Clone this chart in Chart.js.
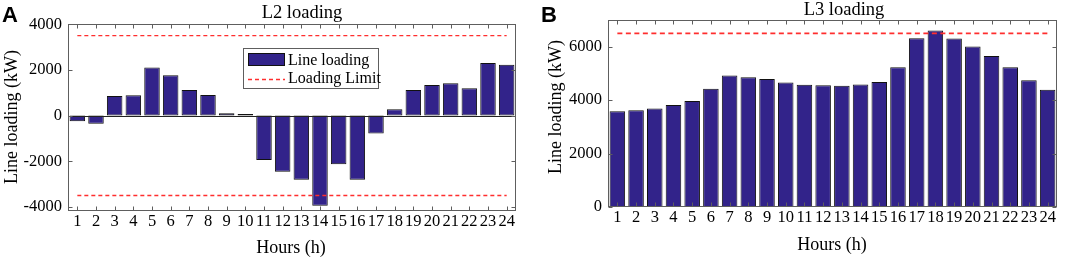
<!DOCTYPE html>
<html>
<head>
<meta charset="utf-8">
<script src="https://cdn.jsdelivr.net/npm/chart.js@4"></script>
<style>
    body { margin: 0; background: #ffffff; }
    #wrap { position: relative; width: 1072px; height: 263px; }
    canvas { position: absolute; top: 0; }
</style>
</head>
<body>
<div id="wrap">
    <canvas id="l2Graph" width="536" height="263" style="left:0px"></canvas>
    <canvas id="l3Graph" width="536" height="263" style="left:536px"></canvas>
</div>
<script>
// data
const hours = ['1', '2', '3', '4', '5', '6', '7', '8', '9', '10', '11', '12', '13', '14', '15', '16', '17', '18', '19', '20', '21', '22', '23', '24'];
const l2Loading = [-250, -360, 860, 890, 2110, 1760, 1120, 900, 100, 70, -1950, -2460, -2810, -3950, -2130, -2810, -790, 280, 1120, 1340, 1410, 1200, 2300, 2220];
const l3Loading = [3580, 3620, 3690, 3820, 3970, 4430, 4920, 4860, 4790, 4660, 4580, 4560, 4540, 4590, 4680, 5230, 6320, 6610, 6310, 6010, 5650, 5230, 4740, 4390];
const l2Limit = 3500;
const l3Limit = 6500;
const l2Ticks = [-4000, -2000, 0, 2000, 4000];
const l3Ticks = [0, 2000, 4000, 6000];

const barColor = '#32238a';
const limitColor = '#ff2e2e';
const axisColor = '#5e5e5e';
const serif = '"Liberation Serif", "Times New Roman", serif';

// draws the matlab style frame: box, inward ticks, titles, letter, legend
const framePlugin = {
    id: 'frame',
    afterDatasetsDraw(chart, args, opts) {
        const ctx = chart.ctx;
        const area = chart.chartArea;
        const x = chart.scales.x;
        const y = chart.scales.y;
        ctx.save();

        // zero baseline
        if (opts.baseline) {
            const y0 = Math.round(y.getPixelForValue(0)) + 0.5;
            ctx.strokeStyle = '#222222';
            ctx.lineWidth = 1;
            ctx.beginPath();
            ctx.moveTo(area.left, y0);
            ctx.lineTo(area.right, y0);
            ctx.stroke();
        }

        // box + inward ticks
        ctx.strokeStyle = axisColor;
        ctx.lineWidth = 1;
        const l = Math.round(area.left) + 0.5, r = Math.round(area.right) - 0.5;
        const t = Math.round(area.top) + 0.5, b = Math.round(area.bottom) - 0.5;
        ctx.strokeRect(l, t, r - l, b - t);
        ctx.beginPath();
        for (let i = 0; i < x.ticks.length; i++) {
            const px = Math.round(x.getPixelForTick(i)) + 0.5;
            ctx.moveTo(px, b); ctx.lineTo(px, b - 4);
            ctx.moveTo(px, t); ctx.lineTo(px, t + 4);
        }
        y.ticks.forEach(tk => {
            const py = Math.round(y.getPixelForValue(tk.value)) + 0.5;
            ctx.moveTo(l, py); ctx.lineTo(l + 4, py);
            ctx.moveTo(r, py); ctx.lineTo(r - 4, py);
        });
        ctx.stroke();

        // panel letter
        ctx.fillStyle = '#000000';
        ctx.font = 'bold 22px "Liberation Sans", Arial, sans-serif';
        ctx.textAlign = 'left';
        ctx.textBaseline = 'alphabetic';
        ctx.fillText(opts.letter, opts.letterX, 22);

        // title and axis titles
        ctx.textAlign = 'center';
        ctx.textBaseline = 'middle';
        ctx.font = '18.5px ' + serif;
        ctx.fillText(opts.title, opts.titleX, opts.titleY);
        ctx.font = '18px ' + serif;
        ctx.fillText('Hours (h)', opts.xTitleX, opts.xTitleY);
        ctx.save();
        ctx.translate(opts.yTitleX, opts.yTitleY);
        ctx.rotate(-Math.PI / 2);
        ctx.fillText('Line loading (kW)', 0, 0);
        ctx.restore();

        // legend box
        if (opts.legend) {
            const lg = opts.legend;
            ctx.fillStyle = '#ffffff';
            ctx.fillRect(lg.x, lg.y, lg.w, lg.h);
            ctx.strokeStyle = axisColor;
            ctx.strokeRect(lg.x + 0.5, lg.y + 0.5, lg.w, lg.h);
            ctx.fillStyle = barColor;
            ctx.fillRect(lg.x + 5, lg.y + 5, 37, 13);
            ctx.strokeStyle = '#111111';
            ctx.strokeRect(lg.x + 5.5, lg.y + 5.5, 36, 12);
            ctx.strokeStyle = limitColor;
            ctx.lineWidth = 1.4;
            ctx.setLineDash([4, 3]);
            ctx.beginPath();
            ctx.moveTo(lg.x + 5, lg.y + 31.5);
            ctx.lineTo(lg.x + 42, lg.y + 31.5);
            ctx.stroke();
            ctx.setLineDash([]);
            ctx.fillStyle = '#000000';
            ctx.textAlign = 'left';
            ctx.font = '16px ' + serif;
            ctx.fillText('Line loading', lg.x + 45, lg.y + 12.5);
            ctx.fillText('Loading Limit', lg.x + 45, lg.y + 31);
        }
        ctx.restore();
    }
};

// build config for one loading panel
function build_loading_config(values, limits, ticks, yMin, yMax, frame, area) {
    const limitSets = limits.map(lim => ({
        type: 'line',
        label: 'Loading Limit',
        data: hours.map(() => lim),
        borderColor: limitColor,
        borderWidth: frame.dashWidth,
        borderDash: frame.dash,
        pointRadius: 0,
        fill: false,
        order: 0
    }));
    return {
        type: 'bar',
        data: {
            labels: hours,
            datasets: [...limitSets, {
                type: 'bar',
                label: 'Line loading',
                data: values,
                backgroundColor: barColor,
                borderColor: '#111111',
                borderWidth: 1,
                borderSkipped: false,
                barPercentage: 0.83,
                categoryPercentage: 1,
                order: 1
            }]
        },
        options: {
            responsive: false,
            animation: false,
            devicePixelRatio: 1,
            layout: { padding: { top: area.top, right: area.right, left: 0, bottom: 0 } },
            plugins: {
                legend: { display: false },
                tooltip: { enabled: false },
                frame: frame
            },
            scales: {
                x: {
                    offset: true,
                    grid: { display: false, drawTicks: false },
                    border: { display: false },
                    ticks: { color: '#000000', padding: 1, maxRotation: 0, autoSkip: false, font: { family: serif, size: 16.5 } },
                    afterFit: (scale) => { scale.height = area.xHeight; }
                },
                y: {
                    min: yMin,
                    max: yMax,
                    grid: { display: false, drawTicks: false },
                    border: { display: false },
                    afterBuildTicks: (scale) => { scale.ticks = ticks.map(v => ({ value: v })); },
                    ticks: {
                        color: '#000000',
                        padding: area.yPad,
                        font: { family: serif, size: 16.5 },
                        callback: (value) => String(value)
                    },
                    afterFit: (scale) => { scale.width = area.yWidth; }
                }
            }
        },
        plugins: [framePlugin]
    };
}

// create both panels
function create_loading_graphs() {
    new Chart('l2Graph', build_loading_config(l2Loading, [l2Limit, -l2Limit], l2Ticks, -4180, 4010, {
        letter: 'A', letterX: 2, title: 'L2 loading', titleX: 302, titleY: 13,
        xTitleX: 291, xTitleY: 248, yTitleX: 12, yTitleY: 117,
        baseline: true, dash: [4, 3], dashWidth: 1.4,
        legend: { x: 243, y: 48, w: 135, h: 40 }
    }, { top: 24, right: 20, xHeight: 52, yWidth: 68, yPad: 6 }));

    new Chart('l3Graph', build_loading_config(l3Loading, [l3Limit], l3Ticks, 0, 7000, {
        letter: 'B', letterX: 5, title: 'L3 loading', titleX: 308, titleY: 10,
        xTitleX: 296, xTitleY: 245, yTitleX: 20, yTitleY: 107,
        baseline: false, dash: [5, 3.5], dashWidth: 1.8,
        legend: null
    }, { top: 20, right: 15, xHeight: 56, yWidth: 72, yPad: 6 }));
}

create_loading_graphs();
</script>
</body>
</html>
